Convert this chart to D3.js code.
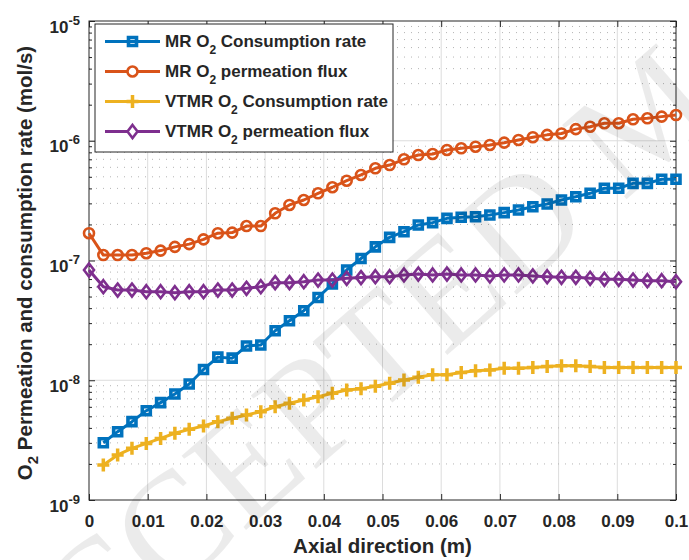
<!DOCTYPE html>
<html>
<head>
<meta charset="utf-8">
<script src="https://cdn.jsdelivr.net/npm/d3@7/dist/d3.min.js"></script>
<style>
  body { margin: 0; background: #fff; }
  svg { display: block; font-family: "Liberation Sans", Arial, sans-serif; font-weight: bold; }
</style>
</head>
<body>
<div id="chart"></div>
<script>
// ─── data ────────────────────────────────────────────────────────────────────

const axialPos = [0, 0.00244, 0.00488, 0.00732, 0.00976, 0.0122, 0.01463, 0.01707, 0.01951, 0.02195,
  0.02439, 0.02683, 0.02927, 0.03171, 0.03415, 0.03659, 0.03902, 0.04146, 0.0439, 0.04634,
  0.04878, 0.05122, 0.05366, 0.0561, 0.05854, 0.06098, 0.06341, 0.06585, 0.06829, 0.07073,
  0.07317, 0.07561, 0.07805, 0.08049, 0.08293, 0.08537, 0.0878, 0.09024, 0.09268, 0.09512,
  0.09756, 0.1];

const mrConsumption = [null, 3.01e-9, 3.72e-9, 4.51e-9, 5.57e-9, 6.50e-9, 7.67e-9, 9.31e-9, 1.23e-8, 1.56e-8,
  1.53e-8, 1.93e-8, 1.97e-8, 2.59e-8, 3.14e-8, 3.81e-8, 4.91e-8, 6.37e-8, 8.33e-8, 1.04e-7,
  1.30e-7, 1.56e-7, 1.74e-7, 1.98e-7, 2.07e-7, 2.25e-7, 2.30e-7, 2.32e-7, 2.40e-7, 2.51e-7,
  2.64e-7, 2.81e-7, 2.96e-7, 3.20e-7, 3.41e-7, 3.64e-7, 4.01e-7, 4.01e-7, 4.41e-7, 4.41e-7,
  4.77e-7, 4.77e-7];

const mrPermeation = [1.69e-7, 1.11e-7, 1.11e-7, 1.11e-7, 1.15e-7, 1.21e-7, 1.30e-7, 1.37e-7, 1.50e-7, 1.69e-7,
  1.71e-7, 1.94e-7, 1.94e-7, 2.48e-7, 2.91e-7, 3.20e-7, 3.64e-7, 4.09e-7, 4.64e-7, 5.18e-7,
  5.89e-7, 6.27e-7, 7.00e-7, 7.60e-7, 7.75e-7, 8.37e-7, 8.65e-7, 8.92e-7, 9.22e-7, 9.64e-7,
  1.015e-6, 1.07e-6, 1.12e-6, 1.15e-6, 1.25e-6, 1.31e-6, 1.40e-6, 1.40e-6, 1.51e-6, 1.54e-6,
  1.59e-6, 1.64e-6];

const vtmrConsumption = [null, 1.96e-9, 2.38e-9, 2.70e-9, 2.97e-9, 3.27e-9, 3.61e-9, 3.89e-9, 4.15e-9, 4.51e-9,
  4.81e-9, 5.13e-9, 5.46e-9, 6.01e-9, 6.42e-9, 6.84e-9, 7.29e-9, 7.78e-9, 8.30e-9, 8.50e-9,
  8.90e-9, 9.44e-9, 1.005e-8, 1.06e-8, 1.11e-8, 1.11e-8, 1.16e-8, 1.20e-8, 1.22e-8, 1.26e-8,
  1.26e-8, 1.28e-8, 1.30e-8, 1.32e-8, 1.32e-8, 1.30e-8, 1.28e-8, 1.28e-8, 1.28e-8, 1.28e-8,
  1.28e-8, 1.28e-8];

const vtmrPermeation = [8.33e-8, 6.04e-8, 5.67e-8, 5.67e-8, 5.49e-8, 5.49e-8, 5.38e-8, 5.49e-8, 5.49e-8, 5.67e-8,
  5.67e-8, 5.86e-8, 6.04e-8, 6.53e-8, 6.53e-8, 6.65e-8, 6.87e-8, 6.87e-8, 7.10e-8, 7.20e-8,
  7.32e-8, 7.32e-8, 7.57e-8, 7.71e-8, 7.57e-8, 7.71e-8, 7.57e-8, 7.57e-8, 7.43e-8, 7.57e-8,
  7.57e-8, 7.43e-8, 7.32e-8, 7.24e-8, 7.24e-8, 7.10e-8, 6.97e-8, 6.97e-8, 6.87e-8, 6.78e-8,
  6.78e-8, 6.65e-8];

// legend labels split as [before subscript, subscript, after]
const seriesLabels = [
  ["MR O", "2", " Consumption rate"],
  ["MR O", "2", " permeation flux"],
  ["VTMR O", "2", " Consumption rate"],
  ["VTMR O", "2", " permeation flux"]
];

const xTicks = [0, 0.01, 0.02, 0.03, 0.04, 0.05, 0.06, 0.07, 0.08, 0.09, 0.1];
const yExponents = [-9, -8, -7, -6, -5];

// ─── styles ──────────────────────────────────────────────────────────────────

const COLORS = ["#0072BD", "#D95319", "#EDB120", "#7E2F8E"];
const MARKERS = ["square", "circle", "plus", "diamond"];
const AXIS_COLOR = "#262626";
const GRID_MAJOR = "#dcdcdc";
const GRID_MINOR = "#b4b4b4";

const W = 689, H = 560;
const P = { left: 89, right: 676, top: 21, bottom: 500 };

const svg = d3.select("#chart").append("svg")
  .attr("width", W).attr("height", H)
  .attr("viewBox", `0 0 ${W} ${H}`);

const x = d3.scaleLinear().domain([0, 0.1]).range([P.left, P.right]);
const y = d3.scaleLog().domain([1e-9, 1e-5]).range([P.bottom, P.top]);

const yMajor = yExponents.map(e => Math.pow(10, e));
const yMinor = [];
yMajor.slice(0, -1).forEach(d => { for (let k = 2; k <= 9; k++) yMinor.push(d * k); });

// ─── grid ────────────────────────────────────────────────────────────────────

const grid = svg.append("g");
grid.selectAll(".gx").data(xTicks.slice(1, -1)).join("line")
  .attr("x1", d => x(d)).attr("x2", d => x(d))
  .attr("y1", P.top).attr("y2", P.bottom)
  .attr("stroke", GRID_MAJOR).attr("stroke-width", 1);
grid.selectAll(".gym").data(yMinor).join("line")
  .attr("x1", P.left).attr("x2", P.right)
  .attr("y1", d => y(d)).attr("y2", d => y(d))
  .attr("stroke", GRID_MINOR).attr("stroke-width", 1)
  .attr("stroke-dasharray", "1,6");
grid.selectAll(".gy").data(yMajor.slice(1, -1)).join("line")
  .attr("x1", P.left).attr("x2", P.right)
  .attr("y1", d => y(d)).attr("y2", d => y(d))
  .attr("stroke", GRID_MAJOR).attr("stroke-width", 1);

// ─── axes (ticks point inward, MATLAB style) ────────────────────────────────

function strip(g) {
  g.select(".domain").remove();
  g.selectAll("line").attr("stroke", AXIS_COLOR);
}

svg.append("g").attr("transform", `translate(0,${P.bottom})`)
  .call(d3.axisBottom(x).tickValues(xTicks).tickSize(-6).tickSizeOuter(0)
    .tickFormat(d => String(+d.toFixed(2))))
  .call(strip)
  .call(g => g.selectAll("text")
    .attr("y", 27).attr("dy", null)
    .attr("fill", AXIS_COLOR)
    .style("font-size", "17px").style("font-family", "Liberation Sans, Arial, sans-serif").style("font-weight", "bold"));

svg.append("g").attr("transform", `translate(0,${P.top})`)
  .call(d3.axisTop(x).tickValues(xTicks).tickSize(-6).tickSizeOuter(0).tickFormat(""))
  .call(strip);

svg.append("g").attr("transform", `translate(${P.left},0)`)
  .call(d3.axisLeft(y).tickValues(yMajor).tickSize(-6).tickSizeOuter(0).tickFormat(""))
  .call(strip);
svg.append("g").attr("transform", `translate(${P.left},0)`)
  .call(d3.axisLeft(y).tickValues(yMinor).tickSize(-3).tickSizeOuter(0).tickFormat(""))
  .call(strip);
svg.append("g").attr("transform", `translate(${P.right},0)`)
  .call(d3.axisRight(y).tickValues(yMajor).tickSize(-6).tickSizeOuter(0).tickFormat(""))
  .call(strip);
svg.append("g").attr("transform", `translate(${P.right},0)`)
  .call(d3.axisRight(y).tickValues(yMinor).tickSize(-3).tickSizeOuter(0).tickFormat(""))
  .call(strip);

// y tick labels 10^n
const yl = svg.append("g").selectAll("text").data(yExponents).join("text")
  .attr("x", 80).attr("y", e => y(Math.pow(10, e)) + 11.5)
  .attr("text-anchor", "end").attr("fill", AXIS_COLOR)
  .style("font-size", "17px");
yl.append("tspan").text("10");
yl.append("tspan").attr("dy", -8).style("font-size", "13px").text(e => e);

svg.append("rect")
  .attr("x", P.left).attr("y", P.top)
  .attr("width", P.right - P.left).attr("height", P.bottom - P.top)
  .attr("fill", "none").attr("stroke", AXIS_COLOR).attr("stroke-width", 1);

// axis titles
svg.append("text")
  .attr("x", (P.left + P.right) / 2).attr("y", 553)
  .attr("text-anchor", "middle").attr("fill", AXIS_COLOR)
  .style("font-size", "20.5px")
  .text("Axial direction (m)");

const yt = svg.append("text")
  .attr("transform", "translate(32,263) rotate(-90)")
  .attr("text-anchor", "middle").attr("fill", AXIS_COLOR)
  .style("font-size", "20.5px");
yt.append("tspan").text("O");
yt.append("tspan").attr("dy", 6).style("font-size", "15px").text("2");
yt.append("tspan").attr("dy", -6).text(" Permeation and consumption rate (mol/s)");

// ─── series ─────────────────────────────────────────────────────────────────

const allSeries = [mrConsumption, mrPermeation, vtmrConsumption, vtmrPermeation];

function markerPath(type) {
  switch (type) {
    case "square": return "M-4,-4H4V4H-4Z";
    case "circle": return "M5,0A5,5 0 1,1 -5,0A5,5 0 1,1 5,0Z";
    case "plus": return "M-6,0H6M0,-6.5V6.5";
    case "diamond": return "M0,-6.5L5,0L0,6.5L-5,0Z";
  }
}
const markerWidth = t => t === "plus" ? 3.5 : t === "square" ? 3.6 : 2.6;

const line = d3.line()
  .defined(d => d.v != null)
  .x(d => x(d.x)).y(d => y(d.v));

const plotG = svg.append("g");
allSeries.forEach((vals, i) => {
  const pts = vals.map((v, j) => ({ x: axialPos[j], v }));
  const g = plotG.append("g");
  g.append("path").datum(pts)
    .attr("d", line)
    .attr("fill", "none").attr("stroke", COLORS[i])
    .attr("stroke-width", 3).attr("stroke-linejoin", "round");
  g.selectAll("path.m").data(pts.filter(d => d.v != null)).join("path")
    .attr("class", "m")
    .attr("transform", d => `translate(${x(d.x)},${y(d.v)})`)
    .attr("d", markerPath(MARKERS[i]))
    .attr("fill", "none").attr("stroke", COLORS[i])
    .attr("stroke-width", markerWidth(MARKERS[i]));
});

// ─── legend ─────────────────────────────────────────────────────────────────

const leg = svg.append("g");
leg.append("rect")
  .attr("x", 95).attr("y", 24).attr("width", 298).attr("height", 128)
  .attr("fill", "#fff").attr("stroke", AXIS_COLOR).attr("stroke-width", 1);

seriesLabels.forEach((lab, i) => {
  const ry = 41.5 + i * 30;
  const row = leg.append("g").attr("transform", `translate(0,${ry})`);
  row.append("line").attr("x1", 105).attr("x2", 160)
    .attr("stroke", COLORS[i]).attr("stroke-width", 3);
  row.append("path").attr("transform", "translate(132.5,0)")
    .attr("d", markerPath(MARKERS[i]))
    .attr("fill", MARKERS[i] === "square" ? "none" : "#fff")
    .attr("stroke", COLORS[i])
    .attr("stroke-width", markerWidth(MARKERS[i]));
  const t = row.append("text").attr("x", 165).attr("y", 5.5)
    .attr("fill", AXIS_COLOR).style("font-size", "17px");
  t.append("tspan").text(lab[0]);
  t.append("tspan").attr("dy", 7).style("font-size", "12px").text(lab[1]);
  t.append("tspan").attr("dy", -7).text(lab[2]);
});

// ─── watermark ───────────────────────────────────────────────────────────────

svg.append("text")
  .attr("transform", "translate(10,735) rotate(-41)")
  .attr("fill", "#000").attr("fill-opacity", 0.08)
  .style("font-family", "Liberation Serif, serif").style("font-weight", "normal")
  .style("font-size", "150px")
  .text("ACCEPTED MANUSCRIPT");
</script>
</body>
</html>
